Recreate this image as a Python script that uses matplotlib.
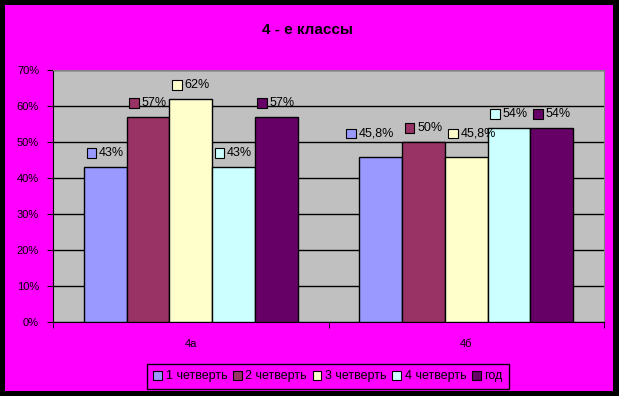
import matplotlib
matplotlib.use("Agg")
import matplotlib.pyplot as plt
import matplotlib.patches as mpatches
from matplotlib.offsetbox import AnnotationBbox, HPacker, TextArea, DrawingArea
import numpy as np

plt.rcParams['font.family'] = ['Liberation Sans', 'DejaVu Sans']

title = '4 - е классы'
classes = ['4а', '4б']
series = ['1 четверть', '2 четверть', '3 четверть', '4 четверть', 'год']
colors = ['#9999FF', '#993366', '#FFFFCC', '#CCFFFF', '#660066']
values = [
    [43, 45.8],
    [57, 50],
    [62, 45.8],
    [43, 54],
    [57, 54],
]
labels = [
    ['43%', '45,8%'],
    ['57%', '50%'],
    ['62%', '45,8%'],
    ['43%', '54%'],
    ['57%', '54%'],
]

W, H = 619, 396
fig = plt.figure(figsize=(W / 100, H / 100), dpi=100, facecolor='black')
# magenta chart area inside black frame
fig.patches.append(mpatches.Rectangle((5 / W, 5 / H), 608 / W, 386 / H,
                                      transform=fig.transFigure, facecolor='#FF00FF',
                                      edgecolor='none', zorder=-5))

ax = fig.add_axes([53 / W, (H - 322) / H, 551 / W, 252 / H])
ax.set_facecolor('#C0C0C0')

# labels Excel nudged aside to avoid overlapping (series, class) -> offset in points
nudge = {(0, 1): (-8, 17), (2, 1): (4, 17)}

x = np.arange(len(classes))
bw = 0.155
for i, s in enumerate(series):
    pos = x + (i - 2) * bw
    ax.bar(pos, values[i], width=bw, color=colors[i], edgecolor='black',
           linewidth=1, label=s, zorder=3)
    for j, (xp, v, lab) in enumerate(zip(pos, values[i], labels[i])):
        da = DrawingArea(7, 7, 0, 0)
        da.add_artist(mpatches.Rectangle((0, 0), 7, 7, facecolor=colors[i],
                                         edgecolor='black', linewidth=0.8))
        ta = TextArea(lab, textprops=dict(fontsize=9, color='black'))
        box = HPacker(children=[da, ta], align='center', pad=0, sep=2)
        ab = AnnotationBbox(box, (xp, v), xybox=nudge.get((i, j), (0, 10)),
                            boxcoords='offset points', frameon=False,
                            box_alignment=(0.5, 0.5), zorder=5)
        ax.add_artist(ab)

ax.set_xlim(-0.5, 1.5)
ax.set_ylim(0, 70)
ax.set_yticks(np.arange(0, 71, 10))
ax.set_yticklabels([f'{t}%' for t in range(0, 71, 10)], fontsize=8)
ax.yaxis.grid(True, color='black', linewidth=1, zorder=1)
ax.set_axisbelow(True)
ax.set_xticks(x)
ax.set_xticklabels(classes, fontsize=8)
ax.set_xticks([-0.5, 0.5, 1.5], minor=True)
ax.tick_params(axis='x', which='major', length=0, pad=12)
ax.tick_params(axis='x', which='minor', length=4, direction='out', color='black')
ax.tick_params(axis='y', length=4, direction='out', color='black', pad=6)
for side in ['top', 'right']:
    ax.spines[side].set_color('#808080')
for side in ['left', 'bottom']:
    ax.spines[side].set_color('black')

fig.text(308 / W, 1 - 30 / H, title, ha='center', va='center',
         fontsize=11, fontweight='bold')

handles = [mpatches.Patch(facecolor=c, edgecolor='black', linewidth=0.8) for c in colors]
leg = fig.legend(handles, series, loc='center', bbox_to_anchor=(328 / W, 1 - 376.5 / H),
                 ncol=5, fontsize=9, frameon=True, fancybox=False, framealpha=1,
                 facecolor='#FF00FF', edgecolor='black', handlelength=0.7,
                 handleheight=0.7, handletextpad=0.3, columnspacing=0.45,
                 borderpad=0.5, borderaxespad=0)
leg.get_frame().set_linewidth(1)

fig.savefig('out.png', dpi=100, facecolor='black')
